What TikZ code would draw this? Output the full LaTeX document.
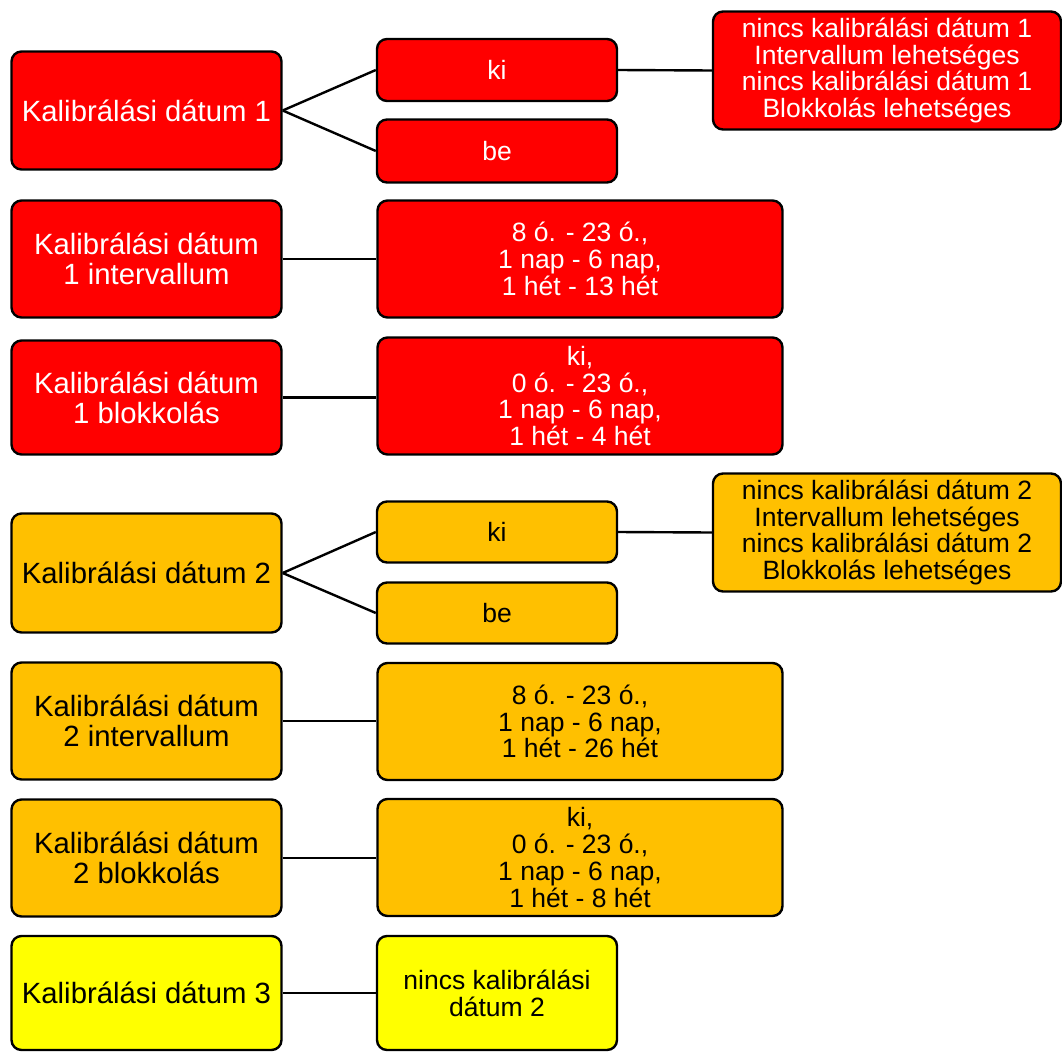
\documentclass[tikz,border=0pt]{standalone}
\usepackage{fontspec}
\setmainfont{Liberation Sans}
\usepackage{tikz}
\usetikzlibrary{positioning}

\definecolor{kalred}{HTML}{FF0000}
\definecolor{kalorange}{HTML}{FFC000}
\definecolor{kalyellow}{HTML}{FFFF00}

\begin{document}
\begin{tikzpicture}[
  x=1pt, y=-1pt,
  box/.style={rectangle, rounded corners=10pt, draw=black, line width=2.4pt,
              inner sep=0pt, align=center},
  lhead/.style={box, minimum width=270pt, font=\fontsize{29.3}{30.2}\selectfont},
  val/.style={box, font=\fontsize{26.5}{26.8}\selectfont},
  small/.style={val, minimum width=240pt},
  wide/.style={val, minimum width=405pt, minimum height=117pt},
  note/.style={val, minimum width=348pt, minimum height=118pt},
  r1/.style={fill=kalred, text=white},
  r2/.style={fill=kalorange, text=black},
  r3/.style={fill=kalyellow, text=black},
  conn/.style={draw=black, line width=2.4pt},
]
\useasboundingbox (0,0) rectangle (1062,1052);

% first date (red)
\node[lhead, r1, minimum height=118pt] (d1)     at (146.5,110.5) {Kalibrálási dátum 1};
\node[small, r1, minimum height=62pt]  (d1ki)   at (497,70)      {ki};
\node[small, r1, minimum height=63pt]  (d1be)   at (497,151)     {be};
\node[note, r1]                        (d1note) at (887,70.5)
  {nincs kalibrálási dátum 1\\Intervallum lehetséges\\nincs kalibrálási dátum 1\\Blokkolás lehetséges};

\node[lhead, r1, minimum height=117pt] (d1int)  at (146.5,259)   {Kalibrálási dátum\\1 intervallum};
\node[wide, r1]                        (d1intv) at (580,259)     {8 ó. - 23 ó.,\\1 nap - 6 nap,\\1 hét - 13 hét};

\node[lhead, r1, minimum height=114pt] (d1blk)  at (146.5,397.5) {Kalibrálási dátum\\1 blokkolás};
\node[wide, r1]                        (d1blkv) at (580,396)     {ki,\\0 ó. - 23 ó.,\\1 nap - 6 nap,\\1 hét - 4 hét};

% second date (orange)
\node[lhead, r2, minimum height=119pt] (d2)     at (146.5,573)   {Kalibrálási dátum 2};
\node[small, r2, minimum height=61pt]  (d2ki)   at (497,532)     {ki};
\node[small, r2, minimum height=61pt]  (d2be)   at (497,613)     {be};
\node[note, r2]                        (d2note) at (887,532.5)
  {nincs kalibrálási dátum 2\\Intervallum lehetséges\\nincs kalibrálási dátum 2\\Blokkolás lehetséges};

\node[lhead, r2, minimum height=117pt] (d2int)  at (146.5,721)   {Kalibrálási dátum\\2 intervallum};
\node[wide, r2]                        (d2intv) at (580,721.5)   {8 ó. - 23 ó.,\\1 nap - 6 nap,\\1 hét - 26 hét};

\node[lhead, r2, minimum height=117pt] (d2blk)  at (146.5,858)   {Kalibrálási dátum\\2 blokkolás};
\node[wide, r2]                        (d2blkv) at (580,857.5)   {ki,\\0 ó. - 23 ó.,\\1 nap - 6 nap,\\1 hét - 8 hét};

% third date (yellow)
\node[lhead, r3, minimum height=114pt] (d3)     at (146.5,993)   {Kalibrálási dátum 3};
\node[small, r3, minimum height=114pt] (d3v)    at (497,993)     {nincs kalibrálási\\dátum 2};

\draw[conn] (d1.east) -- (d1ki.west);
\draw[conn] (d1.east) -- (d1be.west);
\draw[conn] (d1ki.east) -- (d1note.west);
\draw[conn] (d1int.east) -- (d1intv.west);
\draw[conn] (d1blk.east) -- (d1blkv.west |- d1blk.east);

\draw[conn] (d2.east) -- (d2ki.west);
\draw[conn] (d2.east) -- (d2be.west);
\draw[conn] (d2ki.east) -- (d2note.west);
\draw[conn] (d2int.east) -- (d2intv.west |- d2int.east);
\draw[conn] (d2blk.east) -- (d2blkv.west |- d2blk.east);

\draw[conn] (d3.east) -- (d3v.west);

\end{tikzpicture}
\end{document}
